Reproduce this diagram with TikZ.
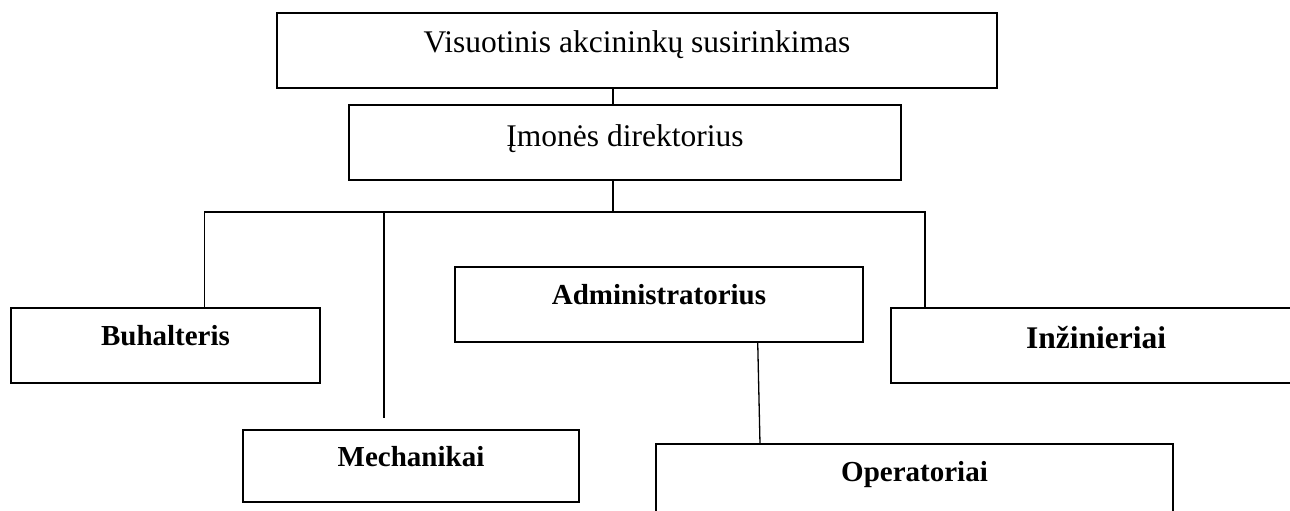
\documentclass[tikz,border=0pt]{standalone}
\usepackage{fontspec}
\setmainfont{Liberation Serif}
\begin{document}
\begin{tikzpicture}[x=1pt,y=-1pt,
  box/.style={draw, line width=1.8pt, inner sep=0pt, outer sep=0pt, rectangle},
  conn/.style={line width=1.3pt},
  reg/.style={font=\fontsize{31.5}{36}\selectfont, anchor=base, inner sep=0pt},
  bld/.style={font=\fontsize{29}{34}\selectfont\bfseries, anchor=base, inner sep=0pt},
  bldbig/.style={font=\fontsize{31.5}{36}\selectfont\bfseries, anchor=base, inner sep=0pt}]
\useasboundingbox (0,0) rectangle (1290,511);
% boxes
\node[box, minimum width=720pt, minimum height=74.7pt] (top) at (637,50.7) {};
\node[box, minimum width=552pt, minimum height=75pt] (dir) at (625,142.5) {};
\node[box, minimum width=309pt, minimum height=74.5pt] (buh) at (165.5,345.5) {};
\node[box, minimum width=336pt, minimum height=72pt] (mech) at (411,466) {};
\node[box, minimum width=408pt, minimum height=75pt] (admin) at (659,304.2) {};
\node[box, minimum width=410pt, minimum height=75pt] (inz) at (1096,345.5) {};
\node[box, minimum width=517pt, minimum height=75pt] (oper) at (914.5,481.5) {};
% texts
\node[reg] (toptext) at ([yshift=-39.4pt]top.north) {Visuotinis akcininkų susirinkimas};
\node[reg] (dirtext) at ([yshift=-41.5pt]dir.north) {Įmonės direktorius};
\node[bld] (buhtext) at ([yshift=-37.5pt]buh.north) {Buhalteris};
\node[bld] (mechtext) at ([yshift=-36.7pt]mech.north) {Mechanikai};
\node[bld] (admintext) at ([yshift=-37.3pt]admin.north) {Administratorius};
\node[bldbig] (inztext) at ([yshift=-40pt]inz.north) {Inžinieriai};
\node[bld] (opertext) at ([yshift=-37.7pt]oper.north) {Operatoriai};
% connectors
\coordinate (trunk) at (613,212);
\coordinate (busL) at (204.7,212);
\coordinate (busR) at (925,212);
\coordinate (mechEnd) at (384,418);
\draw[conn] (top.south -| trunk) -- (dir.north -| trunk);
\draw[conn] (dir.south -| trunk) -- (trunk);
\draw[conn] (buh.north -| busL) -- (busL) -- (busR) -- (inz.north -| busR);
\draw[conn] (mechEnd |- trunk) -- (mechEnd);
\draw[conn] ([xshift=98.7pt]admin.south) -- ([xshift=-154.5pt]oper.north);
\end{tikzpicture}
\end{document}
